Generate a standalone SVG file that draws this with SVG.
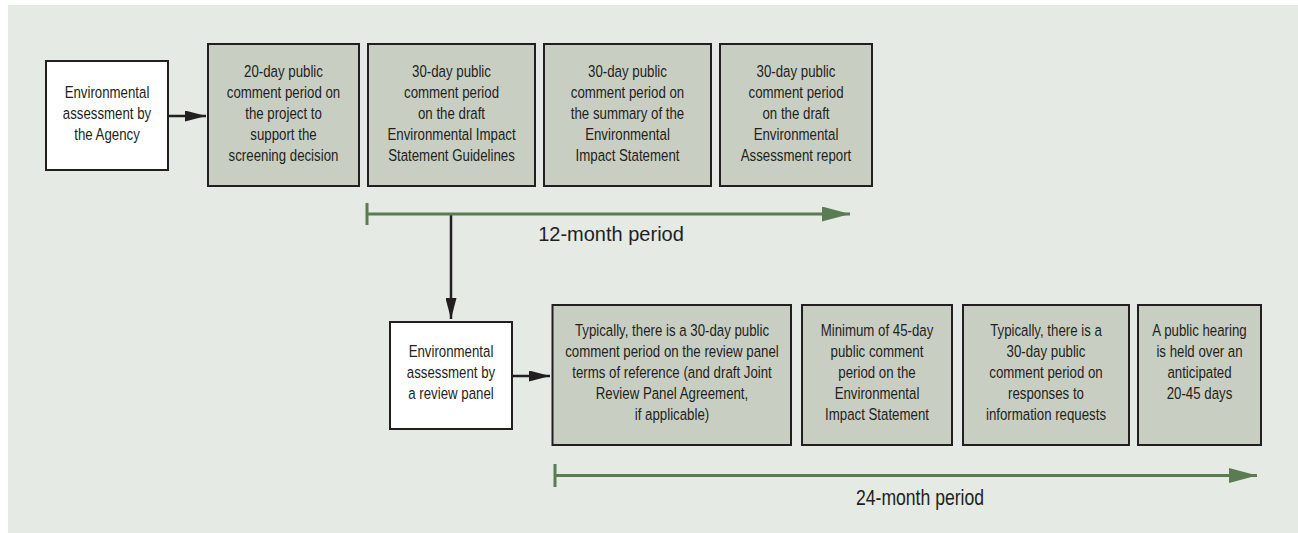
<svg xmlns="http://www.w3.org/2000/svg" width="1298" height="533" viewBox="0 0 1298 533">
<style>
.bg{fill:#ffffff}
.panel{fill:#e5eae4}
.wbox{fill:#ffffff;stroke:#231f20;stroke-width:2}
.gbox{fill:#c9cec3;stroke:#231f20;stroke-width:2}
.t text{font-family:"Liberation Sans",Arial,sans-serif;font-size:17px;fill:#231f20;text-anchor:middle}
.lbl{font-family:"Liberation Sans",Arial,sans-serif;font-size:20px;fill:#231f20;text-anchor:middle}
.lbl2{font-family:"Liberation Sans",Arial,sans-serif;font-size:22px;fill:#231f20;text-anchor:middle}
.blk{stroke:#231f20;stroke-width:2.5;fill:none}
.grn{stroke:#5b7b52;stroke-width:3;fill:none}
</style>
<defs>
<marker id="ab" markerUnits="userSpaceOnUse" markerWidth="21" markerHeight="11" refX="21" refY="5.5" orient="auto"><path d="M0,0 L21,5.5 L0,11 z" fill="#231f20"/></marker>
<marker id="ag" markerUnits="userSpaceOnUse" markerWidth="28" markerHeight="15" refX="28" refY="7.5" orient="auto"><path d="M0,0 L28,7.5 L0,15 z" fill="#5b7b52"/></marker>
</defs>
<rect class="bg" x="0" y="0" width="1298" height="533"/>
<rect class="panel" x="8" y="5" width="1290" height="528"/>

<g id="connectors">
<line class="blk" x1="169" y1="116" x2="206" y2="116" marker-end="url(#ab)"/>
<line class="blk" x1="451" y1="214" x2="451" y2="319" marker-end="url(#ab)"/>
<line class="blk" x1="513" y1="376" x2="550" y2="376" marker-end="url(#ab)"/>
</g>

<g id="timeline-12">
<line class="grn" x1="367" y1="203" x2="367" y2="225"/>
<line class="grn" x1="367" y1="214" x2="850" y2="214" marker-end="url(#ag)"/>
<text class="lbl" x="611" y="241">12-month period</text>
</g>

<g id="timeline-24">
<line class="grn" x1="555" y1="464" x2="555" y2="487"/>
<line class="grn" x1="555" y1="475.5" x2="1257" y2="475.5" marker-end="url(#ag)"/>
<g transform="translate(920,0) scale(0.8,1)"><text class="lbl2" x="0" y="505">24-month period</text></g>
</g>

<g id="agency">
<rect class="wbox" x="46" y="61" width="122" height="109"/>
<g class="t" transform="translate(107,0) scale(0.78,1)">
<text x="0" y="98.5">Environmental</text>
<text x="0" y="119.5">assessment by</text>
<text x="0" y="140.5">the Agency</text>
</g>
</g>

<g id="top1">
<rect class="gbox" x="208" y="44" width="151" height="142"/>
<g class="t" transform="translate(283.5,0) scale(0.78,1)">
<text x="0" y="77">20-day public</text>
<text x="0" y="98">comment period on</text>
<text x="0" y="119">the project to</text>
<text x="0" y="140">support the</text>
<text x="0" y="161">screening decision</text>
</g>
</g>

<g id="top2">
<rect class="gbox" x="368" y="44" width="167" height="142"/>
<g class="t" transform="translate(451.5,0) scale(0.78,1)">
<text x="0" y="77">30-day public</text>
<text x="0" y="98">comment period</text>
<text x="0" y="119">on the draft</text>
<text x="0" y="140">Environmental Impact</text>
<text x="0" y="161">Statement Guidelines</text>
</g>
</g>

<g id="top3">
<rect class="gbox" x="544" y="44" width="167" height="142"/>
<g class="t" transform="translate(627.5,0) scale(0.78,1)">
<text x="0" y="77">30-day public</text>
<text x="0" y="98">comment period on</text>
<text x="0" y="119">the summary of the</text>
<text x="0" y="140">Environmental</text>
<text x="0" y="161">Impact Statement</text>
</g>
</g>

<g id="top4">
<rect class="gbox" x="720" y="44" width="152" height="142"/>
<g class="t" transform="translate(796,0) scale(0.78,1)">
<text x="0" y="77">30-day public</text>
<text x="0" y="98">comment period</text>
<text x="0" y="119">on the draft</text>
<text x="0" y="140">Environmental</text>
<text x="0" y="161">Assessment report</text>
</g>
</g>

<g id="panel-box">
<rect class="wbox" x="390" y="322" width="122" height="107"/>
<g class="t" transform="translate(451,0) scale(0.78,1)">
<text x="0" y="357">Environmental</text>
<text x="0" y="378">assessment by</text>
<text x="0" y="399">a review panel</text>
</g>
</g>

<g id="bot1">
<rect class="gbox" x="552.5" y="305" width="238.5" height="140"/>
<g class="t" transform="translate(672,0) scale(0.78,1)">
<text x="0" y="336">Typically, there is a 30-day public</text>
<text x="0" y="357">comment period on the review panel</text>
<text x="0" y="378">terms of reference (and draft Joint</text>
<text x="0" y="399">Review Panel Agreement,</text>
<text x="0" y="420">if applicable)</text>
</g>
</g>

<g id="bot2">
<rect class="gbox" x="802" y="305" width="150" height="140"/>
<g class="t" transform="translate(877,0) scale(0.78,1)">
<text x="0" y="336">Minimum of 45-day</text>
<text x="0" y="357">public comment</text>
<text x="0" y="378">period on the</text>
<text x="0" y="399">Environmental</text>
<text x="0" y="420">Impact Statement</text>
</g>
</g>

<g id="bot3">
<rect class="gbox" x="963" y="305" width="166" height="140"/>
<g class="t" transform="translate(1046,0) scale(0.78,1)">
<text x="0" y="336">Typically, there is a</text>
<text x="0" y="357">30-day public</text>
<text x="0" y="378">comment period on</text>
<text x="0" y="399">responses to</text>
<text x="0" y="420">information requests</text>
</g>
</g>

<g id="bot4">
<rect class="gbox" x="1138" y="305" width="123" height="140"/>
<g class="t" transform="translate(1199.5,0) scale(0.78,1)">
<text x="0" y="336">A public hearing</text>
<text x="0" y="357">is held over an</text>
<text x="0" y="378">anticipated</text>
<text x="0" y="399">20-45 days</text>
</g>
</g>
</svg>
